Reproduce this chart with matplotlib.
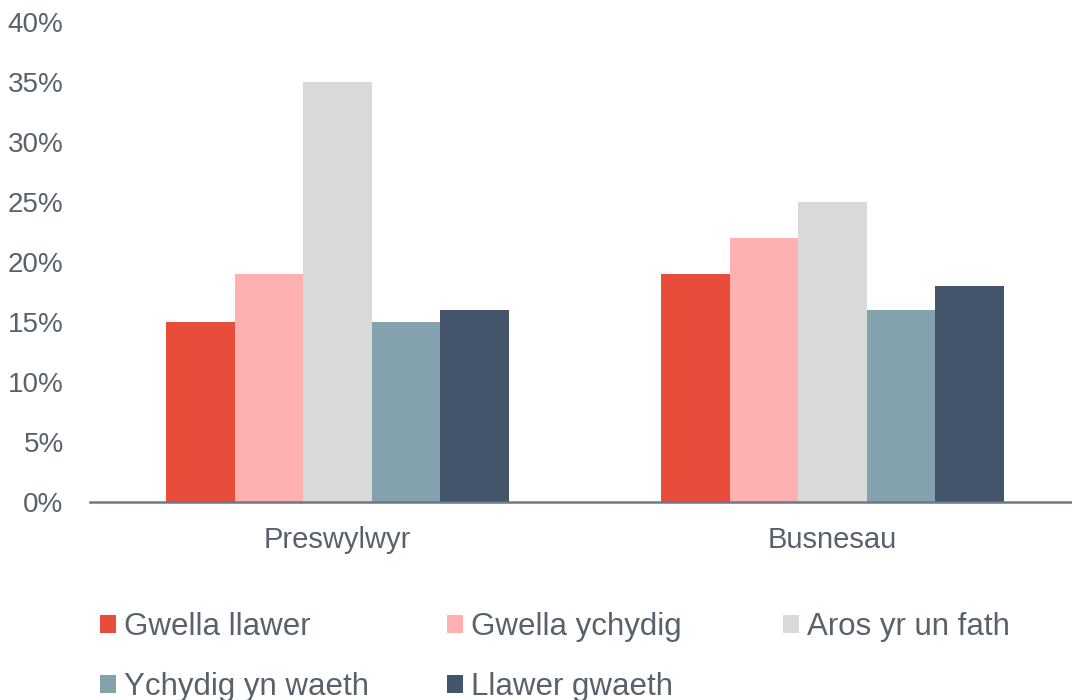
import matplotlib.pyplot as plt
import numpy as np
from matplotlib.patches import Patch

# survey answers, share of respondents in percent
groups = ["Preswylwyr", "Busnesau"]
answers = ["Gwella llawer", "Gwella ychydig", "Aros yr un fath",
           "Ychydig yn waeth", "Llawer gwaeth"]
preswylwyr = [15, 19, 35, 15, 16]
busnesau = [19, 22, 25, 16, 18]
colours = ["#E84C3A", "#FFB0B0", "#D9D9D9", "#84A1AE", "#44546A"]

plt.rcParams['font.family'] = ['Liberation Sans', 'DejaVu Sans']
text_grey = "#58626C"

fig = plt.figure(figsize=(10.72, 7.0), dpi=100)
ax = fig.add_axes([90 / 1072, 1 - 502 / 700, 990 / 1072, 480 / 700])

values = np.array([preswylwyr, busnesau])
x = np.arange(len(groups))
width = 0.1386
for i in range(len(answers)):
    ax.bar(x + (i - 2) * width, values[:, i], width, color=colours[i],
           label=answers[i])

ax.set_xlim(-0.5, 1.5)
ax.set_ylim(0, 40)
ax.set_yticks(np.arange(0, 41, 5))
ax.set_yticklabels([f"{v}%" for v in range(0, 41, 5)])
ax.set_xticks(x)
ax.set_xticklabels(groups)
ax.tick_params(axis='y', length=0, pad=19, labelsize=20, labelcolor=text_grey)
ax.tick_params(axis='x', length=0, pad=17, labelsize=21, labelcolor=text_grey)

for side in ["top", "right", "left"]:
    ax.spines[side].set_visible(False)
ax.spines["bottom"].set_color("#6E7882")
ax.spines["bottom"].set_linewidth(1.8)

# legend laid out as three fixed columns
handles = [Patch(facecolor=c) for c in colours]
columns = [[0, 3], [1, 4], [2]]
col_x = [100, 447, 783]
for cx, idx in zip(col_x, columns):
    leg = fig.legend([handles[k] for k in idx], [answers[k] for k in idx],
                     loc="upper left", bbox_to_anchor=(cx / 1072, 1 - 612 / 700),
                     frameon=False, fontsize=22.5, handlelength=0.52,
                     handleheight=0.52, handletextpad=0.26, labelspacing=0.95,
                     borderaxespad=0, borderpad=0)
    for t in leg.get_texts():
        t.set_color(text_grey)

fig.savefig("out.png", dpi=100)
